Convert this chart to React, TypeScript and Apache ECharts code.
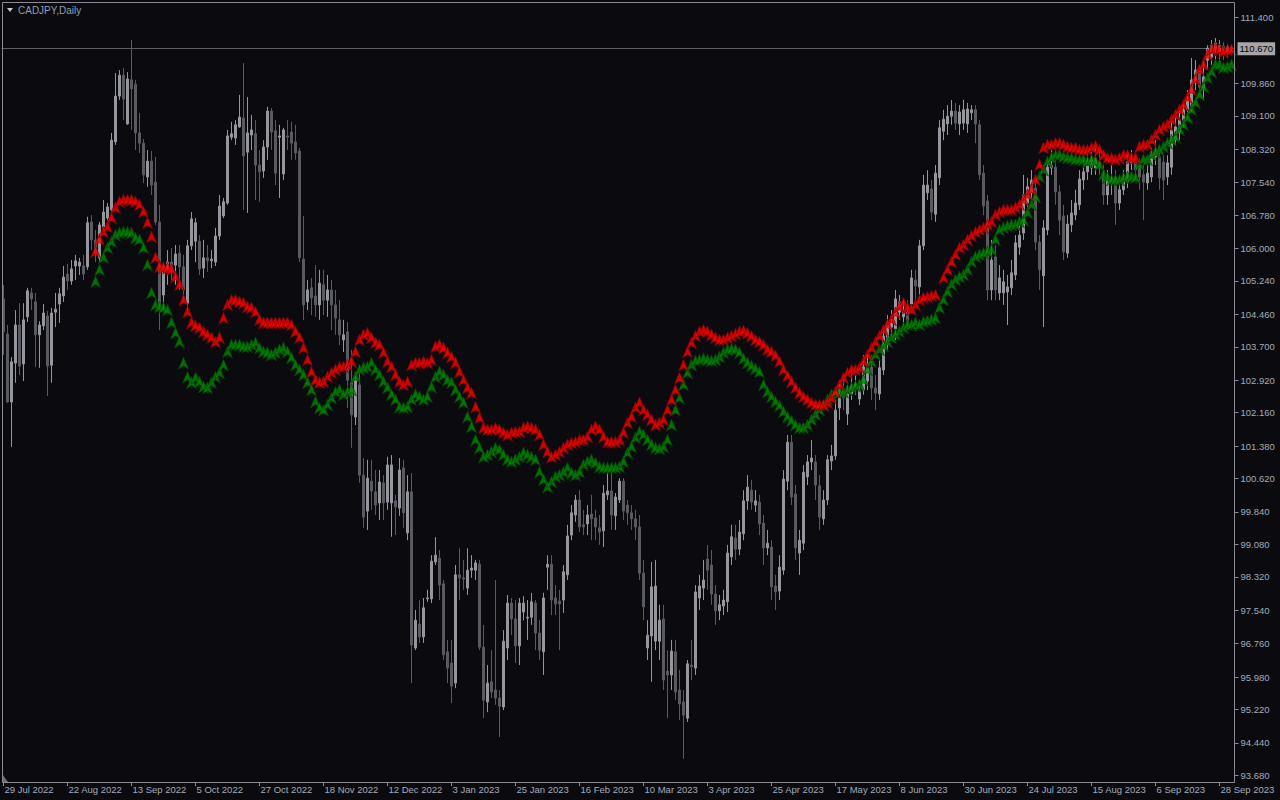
import { useEffect, useRef } from "react";
import * as echarts from "echarts";

const FONT = "'Liberation Sans', Arial, sans-serif";
const symbolTitle = "CADJPY,Daily";
const firstBarDate = [2022, 6, 29]; // 29 Jul 2022, daily bars on weekdays
const monthNames = ["Jan", "Feb", "Mar", "Apr", "May", "Jun", "Jul", "Aug", "Sep", "Oct", "Nov", "Dec"];

// [open, close, low, high]
const candles: number[][] = [
  [104.82,104.05,103.51,105.15],[104.00,102.41,102.39,104.21],[102.41,103.35,101.36,103.46],[103.32,104.21,102.86,104.56],
  [104.21,103.25,103.04,104.72],[103.30,104.33,102.90,104.72],[104.40,105.01,104.28,105.08],[104.96,104.82,104.56,105.08],
  [104.75,103.98,103.23,104.96],[103.98,104.21,103.21,104.30],[104.19,104.49,104.09,104.70],[104.42,103.25,102.55,104.54],
  [103.27,104.49,102.86,104.61],[104.51,104.58,104.16,104.96],[104.70,104.94,104.26,105.08],[104.89,105.33,104.75,105.59],
  [105.40,105.24,105.03,105.64],[105.24,105.52,105.15,105.73],[105.59,105.71,105.26,105.85],[105.59,105.68,105.38,105.78],
  [105.59,105.40,105.26,105.85],[105.57,106.60,105.50,106.74],[106.62,106.20,105.96,106.78],[106.20,105.85,105.68,106.43],
  [105.78,106.55,105.68,106.62],[106.50,106.85,106.38,107.13],[106.71,106.97,106.66,107.06],[106.90,108.53,106.85,108.70],
  [108.49,109.56,108.42,110.10],[109.56,110.05,109.47,110.17],[110.05,109.49,109.00,110.22],[108.91,109.96,108.89,110.12],
  [109.94,109.73,108.77,110.87],[109.84,108.70,108.30,109.94],[108.70,108.46,108.23,109.17],[108.46,107.72,107.53,108.56],
  [107.67,108.04,107.44,108.30],[108.04,107.48,107.25,108.28],[107.55,106.62,106.55,108.14],[106.62,104.68,104.09,107.02],
  [104.91,105.50,104.56,105.68],[105.50,105.68,105.15,105.96],[105.68,105.54,105.26,106.01],[105.61,105.87,105.15,106.08],
  [105.89,105.57,105.03,106.08],[105.57,105.03,104.79,105.85],[104.72,106.06,104.56,106.20],[106.06,106.69,105.96,106.85],
  [106.17,106.60,105.68,106.71],[106.17,105.52,105.38,106.31],[105.54,105.78,105.31,106.20],[105.78,105.71,105.45,106.08],
  [105.71,105.75,105.54,105.96],[105.68,106.29,105.59,106.48],[106.29,106.99,106.20,107.25],[106.76,107.09,106.71,107.18],
  [107.06,108.63,107.02,108.77],[108.60,108.68,108.53,108.96],[108.58,108.89,108.42,109.00],[108.84,109.07,108.82,109.59],
  [109.05,108.16,106.90,110.33],[108.25,108.70,106.83,109.54],[108.65,108.77,108.30,109.12],[108.68,107.95,107.13,109.00],
  [107.95,107.79,107.09,108.30],[107.81,108.37,107.65,108.53],[108.37,109.21,108.07,109.31],[109.21,108.72,108.30,109.28],
  [108.75,107.76,107.48,109.00],[108.60,108.63,107.18,108.89],[107.74,108.77,107.60,108.82],[108.63,108.60,108.30,109.00],
  [108.72,108.46,108.07,108.96],[108.49,108.23,108.07,108.89],[108.28,105.78,105.68,108.35],[105.75,104.68,104.33,106.76],
  [104.75,105.03,104.56,105.26],[105.08,104.84,104.44,105.31],[104.89,104.68,104.40,105.61],[104.68,105.19,104.33,105.50],
  [105.15,104.79,104.44,105.50],[104.79,105.03,104.40,105.38],[105.03,104.68,104.09,105.26],[104.68,104.37,103.98,105.03],
  [104.33,103.98,103.74,104.79],[103.86,103.98,103.58,104.33],[104.05,102.92,102.27,104.28],[102.88,102.11,101.34,103.63],
  [102.06,102.92,101.87,103.11],[102.81,100.70,100.52,103.16],[100.70,99.72,99.47,101.10],[99.86,100.63,99.42,101.06],
  [100.56,100.33,99.89,101.06],[100.31,100.00,99.77,100.82],[100.05,100.54,99.65,100.82],[100.52,100.05,99.65,100.70],
  [100.07,100.94,99.89,101.13],[100.05,100.94,99.26,101.17],[100.10,99.96,99.30,100.24],[99.93,100.82,99.75,101.10],
  [100.87,99.82,99.47,101.06],[99.35,100.31,99.18,100.70],[100.31,96.73,95.84,100.75],[96.66,97.31,96.61,97.55],
  [97.22,96.92,96.78,97.78],[96.92,97.60,96.78,97.83],[97.81,97.83,97.74,98.02],[97.81,98.69,97.71,98.83],
  [98.67,98.83,98.60,99.25],[98.76,98.13,97.78,98.95],[98.16,96.50,96.38,98.25],[96.57,96.19,95.84,96.85],
  [96.31,95.77,95.37,96.85],[95.84,98.37,95.72,98.60],[98.37,98.30,97.78,98.99],[98.30,98.27,98.02,98.72],
  [98.06,98.48,97.90,98.99],[98.48,98.53,98.30,98.83],[98.48,98.65,98.25,98.72],[98.62,96.68,96.61,98.72],
  [96.68,95.44,95.02,97.20],[95.40,95.84,95.16,96.26],[95.87,95.63,95.49,96.61],[95.68,95.49,95.33,98.25],
  [95.49,95.30,94.58,95.68],[95.28,96.82,95.21,97.08],[96.66,97.71,96.38,97.90],[97.71,97.34,96.96,97.83],
  [97.34,96.71,96.31,97.78],[96.71,97.71,96.26,97.83],[97.50,97.71,97.31,97.87],[97.36,97.38,96.85,97.78],
  [97.38,97.74,97.20,97.95],[97.71,97.01,96.61,97.78],[97.01,96.61,96.38,97.31],[96.57,97.83,96.03,97.95],
  [98.55,98.62,98.02,98.83],[98.62,97.78,97.43,98.83],[97.83,97.69,97.43,98.13],[97.76,97.69,96.61,98.02],
  [97.78,98.44,97.48,98.60],[98.37,99.28,98.25,99.54],[99.30,99.82,99.18,100.00],[99.77,100.12,99.61,100.24],
  [100.12,99.49,99.37,100.35],[99.54,99.49,99.30,99.89],[99.56,99.77,99.30,100.00],[99.79,99.68,99.18,100.24],
  [99.70,99.49,99.18,99.89],[99.47,99.37,99.07,99.77],[99.40,100.28,99.02,100.47],[100.24,100.33,100.12,100.75],
  [100.33,99.77,99.42,100.75],[99.75,100.19,99.42,100.28],[100.12,100.56,100.05,100.63],[100.56,99.86,99.65,100.63],
  [100.00,99.82,99.54,100.12],[99.82,99.68,99.42,100.00],[99.68,99.49,99.18,99.89],[99.49,98.41,98.25,99.77],
  [98.41,97.62,97.31,98.72],[96.66,96.96,96.38,97.31],[96.94,98.09,95.87,98.67],[96.82,98.11,96.61,98.72],
  [96.82,97.31,96.38,97.67],[97.34,95.91,95.68,97.67],[96.12,96.03,95.02,96.61],[96.03,96.59,95.68,96.85],
  [96.57,95.63,95.44,96.85],[95.68,95.35,94.98,96.15],[95.40,95.09,94.07,95.68],[95.02,96.29,94.93,96.38],
  [96.26,96.22,95.91,96.85],[96.19,97.97,96.03,98.13],[97.83,98.11,97.55,98.37],[98.06,98.25,97.78,98.72],
  [98.74,98.48,98.02,99.07],[98.60,97.92,97.67,98.95],[97.92,97.53,97.20,98.13],[97.53,97.67,97.31,97.90],
  [97.64,97.78,97.43,98.02],[97.74,98.88,97.50,99.07],[98.79,99.26,98.60,99.54],[99.23,98.97,98.72,99.54],
  [98.97,99.37,98.83,99.65],[99.33,100.10,99.18,100.35],[100.10,100.42,99.89,100.70],[100.35,100.07,99.89,100.59],
  [100.00,100.10,99.84,100.35],[100.07,99.56,99.30,100.24],[99.58,99.00,98.60,99.77],[99.00,99.11,98.83,99.42],
  [99.02,98.09,97.78,99.18],[98.11,97.97,97.55,98.37],[97.99,98.55,97.78,98.83],[98.48,100.61,98.37,100.82],
  [100.56,101.47,100.35,101.64],[101.47,100.19,100.00,101.64],[100.26,99.00,98.72,100.47],[98.88,99.18,98.37,99.42],
  [99.11,100.77,98.95,100.94],[100.66,101.01,100.47,101.17],[101.01,101.10,100.82,101.52],[101.01,100.47,100.12,101.17],
  [100.45,99.72,99.42,100.70],[99.68,100.12,99.54,100.35],[100.12,101.06,100.00,101.17],[101.03,101.15,100.82,101.41],
  [101.15,102.22,101.06,102.46],[102.27,102.71,101.99,102.92],[102.69,102.50,102.22,103.04],[102.13,102.60,101.87,102.81],
  [102.60,102.78,102.46,103.16],[102.78,102.83,102.58,103.04],[102.48,102.67,102.34,102.92],[102.69,103.23,102.58,103.51],
  [102.90,103.30,102.69,103.51],[103.23,102.74,102.46,103.51],[102.74,102.62,102.22,103.04],[102.60,103.21,102.46,103.39],
  [103.16,103.95,103.04,104.09],[103.81,104.26,103.63,104.44],[104.16,104.26,103.98,104.56],[104.12,104.82,103.86,105.03],
  [104.51,104.75,104.33,104.91],[104.40,104.51,104.21,104.79],[104.51,104.30,104.09,104.79],[104.70,105.31,104.56,105.50],
  [105.26,105.12,104.79,105.50],[105.10,106.06,104.91,106.20],[106.06,107.48,105.96,107.72],[107.30,107.48,107.13,107.83],
  [107.39,106.85,106.66,107.60],[106.80,107.76,106.62,107.95],[107.65,108.82,107.48,109.00],[108.74,109.02,108.53,109.24],
  [108.91,109.09,108.65,109.35],[109.09,109.21,108.89,109.47],[109.21,108.93,108.77,109.40],[108.91,109.19,108.65,109.35],
  [108.93,109.24,108.77,109.47],[108.91,109.26,108.70,109.40],[109.17,109.24,109.00,109.35],[109.24,108.91,108.46,109.35],
  [108.89,107.72,107.60,109.00],[107.76,106.99,106.78,107.95],[107.11,105.03,104.79,107.25],[105.03,105.73,104.79,106.20],
  [105.80,105.03,104.79,106.08],[104.96,105.31,104.79,105.61],[104.96,105.22,104.68,105.50],[104.98,105.10,104.21,105.38],
  [105.08,105.43,104.91,105.73],[105.38,106.13,105.26,106.31],[106.03,106.31,105.85,106.55],[106.36,107.25,106.20,107.72],
  [107.06,107.44,106.90,107.65],[107.30,107.60,107.13,107.83],[107.41,106.15,105.96,107.60],[106.15,105.50,105.03,106.31],
  [105.36,106.48,104.16,106.66],[106.43,107.90,106.31,108.07],[107.88,107.93,107.72,108.30],[107.90,107.32,107.02,108.07],
  [107.32,106.66,106.31,107.48],[106.76,105.92,105.73,107.02],[105.89,106.57,105.78,106.78],[106.55,106.83,106.38,107.13],
  [106.78,107.06,106.66,107.37],[107.02,107.62,106.90,107.83],[107.60,107.79,107.37,108.07],[107.79,108.02,107.60,108.30],
  [107.88,108.07,107.72,108.30],[107.88,108.11,107.72,108.35],[108.02,107.95,107.72,108.30],[107.67,107.25,107.02,107.95],
  [107.25,107.60,107.02,107.83],[107.53,107.65,107.25,107.95],[107.65,107.06,106.55,107.83],[107.06,107.37,106.90,107.60],
  [107.37,107.62,107.25,107.83],[107.55,108.02,107.41,108.18],[108.00,108.04,107.83,108.30],[108.02,107.83,107.60,108.18],
  [107.95,107.67,107.37,108.11],[107.72,107.55,106.66,107.95],[107.53,107.76,107.37,107.95],[107.67,108.18,107.55,108.35],
  [108.14,108.23,107.95,108.53],[108.14,107.65,107.37,108.30],[108.02,107.60,107.13,108.18],[107.67,108.00,107.48,108.18],
  [107.90,108.77,107.72,109.00],[108.53,108.84,108.42,109.05],[108.70,109.00,108.53,109.24],[109.00,109.24,108.82,109.47],
  [109.24,109.47,109.05,109.70],[109.31,109.94,109.19,110.45],[109.94,110.17,109.70,110.40],[110.10,109.77,109.59,110.29],
  [109.75,110.01,109.47,110.40],[110.40,110.68,110.17,110.75],[110.47,110.75,110.29,110.87],[110.64,110.80,110.40,110.92],
  [110.57,110.75,110.36,110.87],[110.73,110.59,110.40,110.82],[110.59,110.71,110.45,110.78],[110.71,110.67,110.52,110.78],
];

// Indicator arrows, first value belongs to bar bandStart
const bandStart = 23;
const redBand: (number | null)[] = [
  105.92,106.20,106.38,106.50,106.71,106.95,107.09,107.13,107.13,107.13,
  107.09,107.02,106.85,106.60,106.27,105.78,105.57,105.54,105.54,105.50,
  105.33,105.15,104.79,104.51,104.26,104.19,104.14,104.05,103.98,103.91,
  103.81,103.91,104.37,104.68,104.79,104.79,104.75,104.72,104.63,104.61,
  104.51,104.33,104.26,104.26,104.26,104.26,104.26,104.26,104.26,104.21,
  104.05,103.91,103.67,103.39,103.11,102.92,102.86,102.88,103.00,103.09,
  103.16,103.23,103.23,103.27,103.35,103.58,103.86,103.98,104.02,103.91,
  103.79,103.74,103.56,103.35,103.23,103.04,102.88,102.81,102.88,103.27,
  103.32,103.32,103.35,103.32,103.39,103.70,103.74,103.67,103.56,103.46,
  103.32,103.11,102.92,102.74,102.62,102.29,102.04,101.80,101.76,101.76,
  101.80,101.76,101.69,101.64,101.69,101.71,101.71,101.80,101.83,101.80,
  101.76,101.64,101.41,101.24,101.12,101.17,101.24,101.33,101.41,101.45,
  101.47,101.52,101.52,101.59,101.76,101.83,101.76,101.59,101.47,101.47,
  101.47,101.52,101.69,101.92,102.06,102.27,102.39,102.22,102.11,101.99,
  101.87,101.92,101.99,102.22,102.46,102.69,102.97,103.27,103.58,103.79,
  103.95,104.05,104.09,104.05,103.98,103.91,103.86,103.86,103.91,103.95,
  104.00,104.05,104.07,104.02,103.95,103.86,103.81,103.74,103.63,103.58,
  103.49,103.35,103.16,103.02,102.88,102.74,102.62,102.53,102.46,102.39,
  102.34,102.34,102.34,102.39,102.50,102.64,102.81,102.97,103.09,103.16,
  103.16,103.21,103.35,103.51,103.67,103.81,103.95,104.09,104.21,104.33,
  104.49,104.63,104.72,104.61,104.56,104.68,104.79,104.84,104.86,104.89,
  104.91,null,105.31,105.50,105.68,105.85,106.01,106.08,106.20,106.29,
  106.38,106.43,106.48,106.55,106.62,106.78,106.85,106.90,106.90,106.90,
  106.95,107.02,107.13,107.25,107.37,107.60,107.95,108.35,108.42,108.42,
  108.46,108.46,108.42,108.37,108.35,108.35,108.30,108.30,108.30,108.35,
  108.39,108.30,108.18,108.11,108.11,108.07,108.11,108.18,108.18,108.11,
  108.11,108.37,108.42,108.42,108.53,108.65,108.77,108.84,108.89,109.00,
  109.12,109.24,109.35,109.52,109.70,109.94,110.17,110.29,110.52,110.64,
  110.68,110.64,110.59,110.64,110.64,
];
const greenBand: (number | null)[] = [
  105.22,105.50,105.78,106.01,106.15,106.31,106.36,106.38,106.38,106.36,
  106.24,106.20,106.01,105.61,104.96,104.68,104.63,104.61,104.56,104.26,
  104.02,103.81,103.32,102.99,102.86,102.97,102.88,102.76,102.74,102.86,
  102.99,103.09,103.27,103.58,103.74,103.74,103.74,103.70,103.70,103.74,
  103.79,103.67,103.58,103.56,103.51,103.56,103.63,103.67,103.58,103.44,
  103.27,103.16,103.04,102.86,102.69,102.41,102.27,102.22,102.34,102.50,
  102.64,102.69,102.58,102.64,102.69,102.99,103.16,103.21,103.23,103.32,
  103.16,103.04,102.88,102.74,102.58,102.46,102.29,102.27,102.29,102.46,
  102.58,102.53,102.46,102.53,102.76,102.99,103.11,103.04,102.92,102.86,
  102.69,102.53,102.39,102.06,101.83,101.52,101.33,101.12,101.17,101.24,
  101.33,101.29,101.17,101.06,101.01,101.06,101.12,101.22,101.17,101.12,
  101.06,100.77,100.59,100.42,100.54,100.66,100.70,100.77,100.87,100.75,
  100.70,100.77,100.94,101.01,101.06,100.98,100.89,100.87,100.87,100.87,
  100.87,100.89,101.01,101.22,101.36,101.57,101.71,101.64,101.52,101.41,
  101.33,101.31,101.36,101.52,101.87,102.22,102.50,102.81,103.09,103.27,
  103.37,103.39,103.42,103.39,103.37,103.39,103.46,103.56,103.63,103.65,
  103.63,103.56,103.42,103.32,103.25,103.18,103.11,102.81,102.64,102.53,
  102.41,102.32,102.18,102.06,101.97,101.87,101.80,101.80,101.87,101.99,
  102.11,102.22,102.32,102.46,102.58,102.64,102.62,102.64,102.69,102.74,
  102.78,102.81,102.92,103.16,103.35,103.51,103.63,103.72,103.81,103.91,
  103.98,104.05,104.14,104.21,104.21,104.26,104.21,104.28,104.30,104.33,
  104.37,104.61,104.79,104.98,105.15,105.26,105.33,105.38,105.50,105.68,
  105.80,105.85,105.89,105.92,105.96,106.20,106.43,106.48,106.52,106.55,
  106.55,106.62,106.66,106.83,107.02,107.20,107.67,107.83,108.02,108.11,
  108.18,108.18,108.14,108.11,108.11,108.07,108.07,108.07,108.02,108.07,
  108.02,107.95,107.72,107.65,107.60,107.60,107.60,107.65,107.67,107.67,
  107.65,107.95,108.07,108.07,108.18,108.25,108.30,108.37,108.46,108.53,
  108.60,108.77,108.89,109.05,109.24,109.40,109.59,109.77,109.98,110.12,
  110.29,110.29,110.22,110.24,110.29,
];

const priceTicks = [93.68, 94.44, 95.22, 95.98, 96.76, 97.54, 98.32, 99.08, 99.84, 100.62, 101.38, 102.16,
  102.92, 103.70, 104.46, 105.24, 106.00, 106.78, 107.54, 108.32, 109.10, 109.86, 111.40];
const lastPrice = 110.67;
const priceMin = 93.528;
const priceMax = 111.76;

function weekdayLabels(n: number): string[] {
  const out: string[] = [];
  const d = new Date(Date.UTC(firstBarDate[0], firstBarDate[1], firstBarDate[2]));
  while (out.length < n) {
    const wd = d.getUTCDay();
    if (wd !== 0 && wd !== 6) {
      out.push(`${d.getUTCDate()} ${monthNames[d.getUTCMonth()]} ${d.getUTCFullYear()}`);
    }
    d.setUTCDate(d.getUTCDate() + 1);
  }
  return out;
}

const ARROW = "path://M5 0 L10 12 L5 8.6 L0 12 Z";

export default function App() {
  const ref = useRef<HTMLDivElement>(null);
  useEffect(() => {
    if (!ref.current) return;
    const chart = echarts.init(ref.current, null, { renderer: "svg" });
    const dates = weekdayLabels(candles.length);
    const toPoints = (arr: (number | null)[]) =>
      arr.map((v, k) => (v == null ? null : [k + bandStart, v])).filter((p) => p !== null);
    const axisColor = "#8c8c96";
    const textColor = "#a4acbc";
    chart.setOption({
      animation: false,
      backgroundColor: "#0a0a0f",
      grid: { left: 1.5, top: 2, width: 1232, height: 780, containLabel: false },
      xAxis: {
        type: "category",
        data: dates,
        boundaryGap: true,
        axisLine: { show: false },
        axisTick: { show: true, interval: 15, alignWithLabel: true, length: 4, lineStyle: { color: axisColor } },
        axisLabel: { interval: 15, align: "left", color: textColor, fontSize: 9.5, fontFamily: FONT, margin: 2, padding: [0, 0, 0, 1] },
        splitLine: { show: false },
      },
      yAxis: {
        type: "value",
        position: "right",
        min: priceMin,
        max: priceMax,
        offset: 1,
        axisLine: { show: false },
        axisTick: { show: true, customValues: priceTicks, length: 4, lineStyle: { color: axisColor } },
        axisLabel: {
          customValues: priceTicks,
          formatter: (v: number) => v.toFixed(3),
          color: textColor,
          fontSize: 9.5,
          fontFamily: FONT,
          margin: 6,
        },
        splitLine: { show: false },
      },
      series: [
        {
          type: "candlestick",
          data: candles,
          barWidth: 2,
          itemStyle: {
            color: "#96969f",
            color0: "#5a5a61",
            borderColor: "#96969f",
            borderColor0: "#5a5a61",
            borderWidth: 1,
          },
          markLine: {
            silent: true,
            symbol: ["none", "none"],
            data: [{ yAxis: lastPrice }],
            lineStyle: { color: "#5e5e68", width: 1, type: "solid" },
            label: {
              show: true,
              position: "end",
              formatter: lastPrice.toFixed(3),
              backgroundColor: "#a6a6a6",
              color: "#000000",
              padding: [2, 2, 1, 2],
              fontSize: 9.5,
              fontFamily: FONT,
              distance: 4,
            },
            z: 1,
          },
          z: 2,
        },
        {
          type: "scatter",
          data: toPoints(greenBand),
          symbol: ARROW,
          symbolSize: [10, 12],
          itemStyle: { color: "#008a00", borderColor: "#004400", borderWidth: 0.8 },
          z: 3,
        },
        {
          type: "scatter",
          data: toPoints(redBand),
          symbol: ARROW,
          symbolSize: [10, 12],
          itemStyle: { color: "#ff0000", borderColor: "#7a0000", borderWidth: 0.8 },
          z: 4,
        },
      ],
      graphic: [
        {
          type: "rect",
          shape: { x: 2.5, y: 2.5, width: 1232, height: 780 },
          style: { fill: "none", stroke: axisColor, lineWidth: 1 },
          silent: true,
          z: 10,
        },
        {
          type: "polygon",
          shape: { points: [[7, 8], [13, 8], [10, 12]] },
          style: { fill: "#c8c8d0" },
          z: 10,
        },
        {
          type: "text",
          x: 18,
          y: 5,
          style: { text: symbolTitle, fill: "#8e9fb8", font: `10px ${FONT}` },
          z: 10,
        },
        {
          type: "polygon",
          shape: { points: [[3, 775], [3, 782], [8, 782]] },
          style: { fill: "#6c6c74" },
          z: 10,
        },
      ],
    });
    return () => chart.dispose();
  }, []);
  return (
    <div
      ref={ref}
      style={{ position: "fixed", left: 0, top: 0, width: 1280, height: 800, background: "#0a0a0f" }}
    />
  );
}
